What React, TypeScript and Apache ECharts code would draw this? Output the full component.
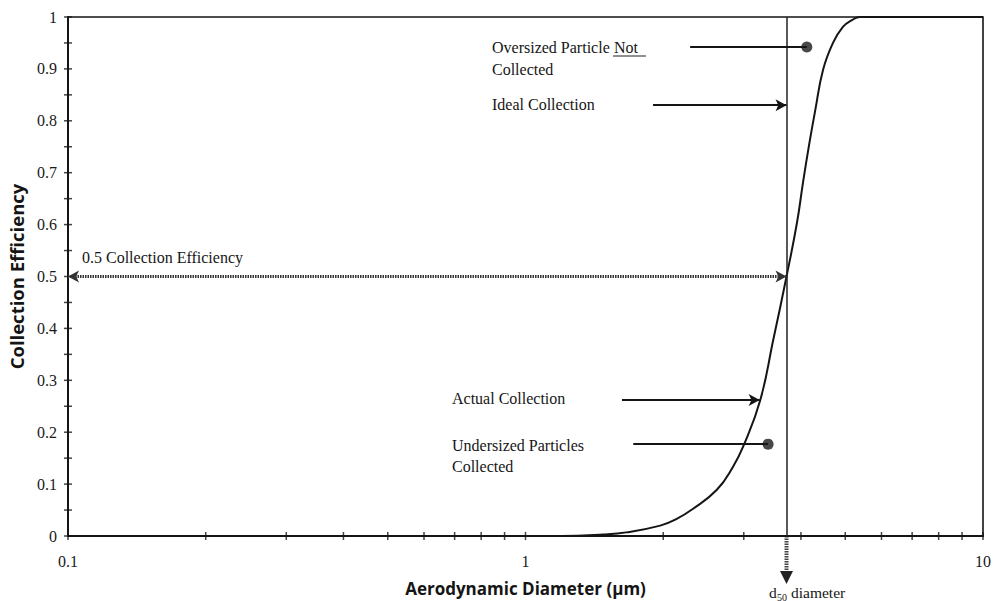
import React, { useEffect, useRef } from "react";
import * as echarts from "echarts";

// Collection efficiency curve: [aerodynamic diameter (µm), efficiency]
const curveDiameters = [1.0, 1.2, 1.48, 1.66, 1.97, 2.14, 2.32, 2.62, 2.84, 3.0, 3.26, 3.48, 3.72, 3.92, 4.04, 4.17, 4.3, 4.47, 4.7, 4.94, 5.17, 5.38, 6.0, 10];
const curveEfficiency = [0, 0, 0.003, 0.007, 0.02, 0.033, 0.052, 0.089, 0.133, 0.175, 0.262, 0.378, 0.5, 0.603, 0.68, 0.755, 0.821, 0.898, 0.95, 0.981, 0.994, 1.0, 1.0, 1.0];

const d50 = 3.72;
const halfEfficiency = 0.5;

// Marker dots: [diameter, efficiency]
const oversizedDot = [4.12, 0.942];
const undersizedDot = [3.39, 0.177];

// Annotation arrows / leader lines: [fromDiameter, toDiameter, efficiency]
const idealArrow = [1.9, 3.72, 0.83];
const actualArrow = [1.625, 3.25, 0.262];
const oversizedLeader = [2.29, 4.12, 0.942];
const undersizedLeader = [1.72, 3.39, 0.177];

// Tick positions
const xTickValues = [0.1, 0.2, 0.3, 0.4, 0.5, 0.6, 0.7, 0.8, 0.9, 1, 2, 3, 4, 5, 6, 7, 8, 9, 10];
const yTickValues = [0, 0.05, 0.1, 0.15, 0.2, 0.25, 0.3, 0.35, 0.4, 0.45, 0.5, 0.55, 0.6, 0.65, 0.7, 0.75, 0.8, 0.85, 0.9, 0.95, 1];

const SERIF = "'Liberation Serif', 'DejaVu Serif', serif";
const SANS = "'Open Sans', 'Noto Sans', sans-serif";
const INK = "#151515";

export default function App() {
  const ref = useRef<HTMLDivElement>(null);

  useEffect(() => {
    if (!ref.current) return;
    const chart = echarts.init(ref.current, undefined, { renderer: "svg" });

    const curve = curveDiameters.map((d, i) => [d, curveEfficiency[i]]);
    const xTicks = xTickValues.map((v) => [v, 0]);
    const yTicks = yTickValues.map((v) => [0.1, v]);

    const arrowLine = (a: number[], arrow: boolean) => [
      { coord: [a[0], a[2]], symbol: "none" },
      { coord: [a[1], a[2]], symbol: arrow ? "arrow" : "none" },
    ];

    chart.setOption({
      animation: false,
      backgroundColor: "#ffffff",
      grid: {
        left: 68,
        right: 10,
        top: 17,
        bottom: 65,
        containLabel: false,
        outerBoundsMode: "none",
        show: true,
        borderColor: INK,
        borderWidth: 1.6,
        backgroundColor: "transparent",
      },
      xAxis: {
        type: "log",
        logBase: 10,
        min: 0.1,
        max: 10,
        name: "Aerodynamic Diameter (µm)",
        nameLocation: "middle",
        nameGap: 44,
        nameTextStyle: { fontFamily: SANS, fontWeight: "bold", fontSize: 17, color: INK },
        axisLine: { show: true, lineStyle: { color: INK, width: 2 } },
        axisTick: { show: false },
        minorTick: { show: false },
        splitLine: { show: false },
        axisLabel: { fontFamily: SERIF, fontSize: 16, color: "#1a1a1a", margin: 17 },
      },
      yAxis: {
        type: "value",
        min: 0,
        max: 1,
        interval: 0.1,
        name: "Collection Efficiency",
        nameLocation: "middle",
        nameGap: 41,
        nameTextStyle: { fontFamily: SANS, fontWeight: "bold", fontSize: 18.5, color: INK },
        axisLine: { show: true, lineStyle: { color: INK, width: 2 } },
        axisTick: { show: false },
        splitLine: { show: false },
        axisLabel: { fontFamily: SERIF, fontSize: 16, color: "#1a1a1a", margin: 11 },
      },
      series: [
        {
          type: "line",
          data: curve,
          smooth: 0.45,
          showSymbol: false,
          symbol: "none",
          silent: true,
          clip: false,
          lineStyle: { color: INK, width: 2 },
          markLine: {
            silent: true,
            symbolSize: [9, 11],
            label: { show: false },
            data: [
              [
                { coord: [d50, 1], symbol: "none", lineStyle: { color: "#222", width: 1.5, type: "solid" } },
                { coord: [d50, 0], symbol: "none" },
              ],
              [
                { coord: [d50, halfEfficiency], symbol: "arrow", lineStyle: { color: "#333", width: 3, type: [1.5, 1] } },
                { coord: [0.1, halfEfficiency], symbol: "arrow" },
              ],
              arrowLine(idealArrow, true),
              arrowLine(actualArrow, true),
              arrowLine(oversizedLeader, false),
              arrowLine(undersizedLeader, false),
            ],
            lineStyle: { color: INK, width: 1.8, type: "solid" },
          },
        },
        {
          type: "scatter",
          data: [oversizedDot, undersizedDot],
          symbol: "circle",
          symbolSize: 11,
          silent: true,
          itemStyle: { color: "#1a1a1a" },
        },
        {
          type: "scatter",
          data: xTicks,
          symbol: "rect",
          symbolSize: [1.5, 8],
          clip: false,
          silent: true,
          itemStyle: { color: INK },
        },
        {
          type: "scatter",
          data: yTicks,
          symbol: "rect",
          symbolSize: [8, 1.5],
          clip: false,
          silent: true,
          itemStyle: { color: INK },
        },
      ],
    });

    const base = chart.convertToPixel({ xAxisIndex: 0, yAxisIndex: 0 }, [d50, 0]) as number[];
    const bx = base[0];
    const by = base[1];

    const txt = (text: string, x: number, y: number, size = 16) => ({
      type: "text",
      x,
      y,
      silent: true,
      style: {
        text,
        fontFamily: SERIF,
        fontSize: size,
        fill: "#161616",
        verticalAlign: "middle",
        align: "left",
      },
    });

    chart.setOption({
      graphic: [
        {
          type: "line",
          silent: true,
          shape: { x1: bx, y1: by, x2: bx, y2: by + 38 },
          style: { stroke: "#444", lineWidth: 4, lineDash: [1.5, 1] },
        },
        {
          type: "polygon",
          silent: true,
          shape: { points: [[bx - 6.5, by + 35], [bx + 6.5, by + 35], [bx, by + 48]] },
          style: { fill: "#222" },
        },
        txt("0.5 Collection Efficiency", 82, 257),
        txt("Oversized Particle", 492, 47),
        txt("Not", 614, 47),
        {
          type: "line",
          silent: true,
          shape: { x1: 613, y1: 56, x2: 646, y2: 56 },
          style: { stroke: "#222", lineWidth: 1.2 },
        },
        txt("Collected", 492, 69),
        txt("Ideal Collection", 492, 104),
        txt("Actual Collection", 452, 398),
        txt("Undersized Particles", 452, 445),
        txt("Collected", 452, 466),
        txt("d", 769, 592, 15.5),
        txt("50", 777, 597, 10),
        txt("diameter", 791, 592, 15.5),
      ],
    });

    return () => chart.dispose();
  }, []);

  return (
    <div
      ref={ref}
      style={{ position: "fixed", left: 0, top: 0, width: 993, height: 601, background: "#fff" }}
    />
  );
}
